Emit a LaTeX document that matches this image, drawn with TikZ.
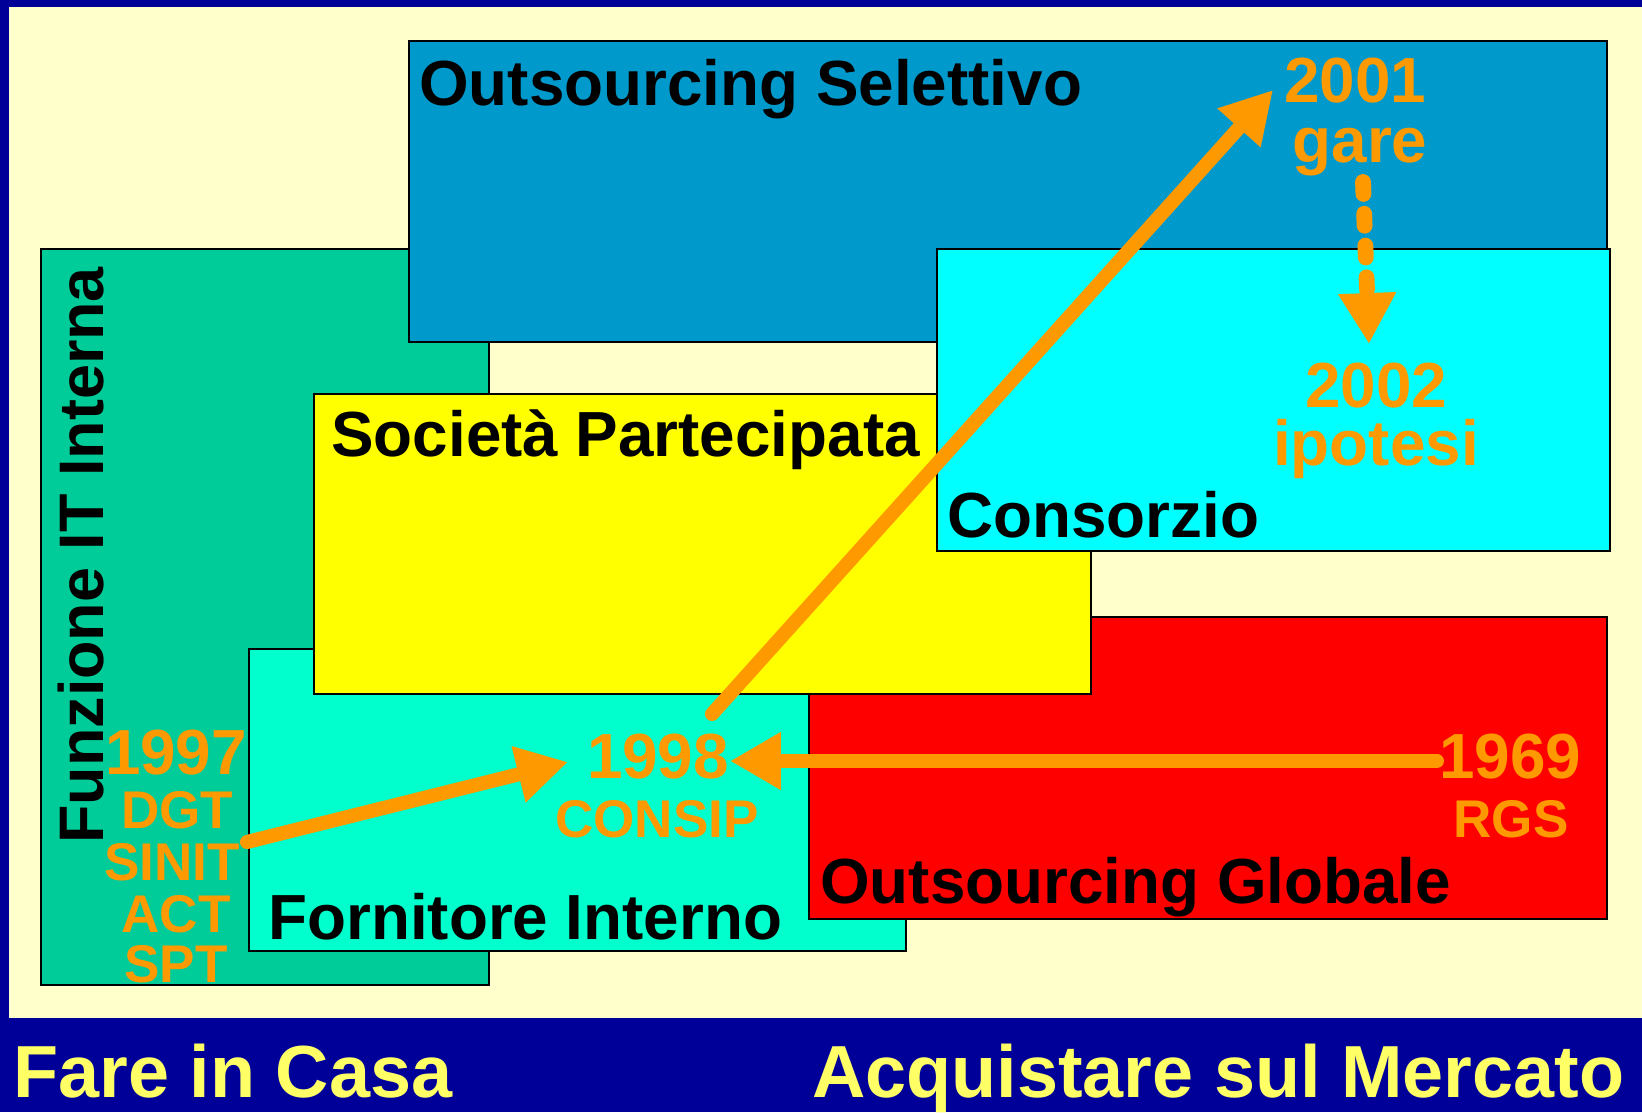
\documentclass[tikz,border=0pt]{standalone}
\usepackage{fontspec}
\setmainfont{Liberation Sans}
\usetikzlibrary{arrows.meta}

\definecolor{frameblue}{HTML}{000099}
\definecolor{cream}{HTML}{FFFFCC}
\definecolor{interna}{HTML}{00CC99}
\definecolor{selettivo}{HTML}{0099CC}
\definecolor{fornitore}{HTML}{00FFCC}
\definecolor{partecipata}{HTML}{FFFF00}
\definecolor{globale}{HTML}{FF0000}
\definecolor{consorzio}{HTML}{00FFFF}
\definecolor{yearorange}{HTML}{FF9900}
\definecolor{bandyellow}{HTML}{FFFF66}

\tikzset{
  box/.style={draw=black, line width=0.7pt},
  title/.style={anchor=base west, inner sep=0pt, font=\fontsize{36.3}{40}\selectfont\bfseries},
  year/.style={anchor=base, inner sep=0pt, text=yearorange, font=\fontsize{36.3}{40}\selectfont\bfseries},
  tag/.style={year, font=\fontsize{30.2}{34}\selectfont\bfseries},
  band/.style={anchor=base west, inner sep=0pt, text=bandyellow, font=\fontsize{42}{46}\selectfont\bfseries},
  trend/.style={draw=yearorange, line width=8pt, line cap=round, -{Triangle[length=29pt,width=31pt]}},
}

\begin{document}
\begin{tikzpicture}[x=0.02cm, y=-0.02cm]
    \useasboundingbox (0,0) rectangle (1642,1112);
    \fill[frameblue] (0,0) rectangle (1642,1112);
    \fill[cream] (9,7) rectangle (1642,1018);

    % the six ways of sourcing
    \draw[box, fill=interna] (41,249) rectangle (489,985);
    \draw[box, fill=selettivo] (409,41) rectangle (1607,342);
    \draw[box, fill=fornitore] (249,649) rectangle (906,951);
    \draw[box, fill=globale] (809,617) rectangle (1607,919);
    \draw[box, fill=partecipata] (314,394) rectangle (1091,694);
    \draw[box, fill=consorzio] (937,249) rectangle (1610,551);

    \node[title] (selettivo) at (419,105) {Outsourcing Selettivo};
    \node[title] (partecipata) at (331,456) {Società Partecipata};
    \node[title] (consorzio) at (947,537) {Consorzio};
    \node[title] (globale) at (820,903) {Outsourcing Globale};
    \node[title] (fornitore) at (268,939) {Fornitore Interno};
    \node[title, rotate=90, font=\fontsize{35.8}{40}\selectfont\bfseries] (interna) at (103,844) {Funzione IT Interna};

    % years
    \node[year] (y1997) at (176,774) {1997};
    \node[tag] (dgt) at (177,828) {DGT};
    \node[tag] (sinit) at (172,880) {SINIT};
    \node[tag] (act) at (176,932) {ACT};
    \node[tag] (spt) at (176,982) {SPT};
    \node[year] (y1998) at (658,778) {1998};
    \node[tag] (consip) at (657,837) {CONSIP};
    \node[year] (y1969) at (1510,778) {1969};
    \node[tag] (rgs) at (1511,837) {RGS};
    \node[year] (y2001) at (1355,102) {2001};
    \node[year] (gare) at (1360,162) {gare};
    \node[year] (y2002) at (1376,407) {2002};
    \node[year] (ipotesi) at (1376,465) {ipotesi};

    \coordinate (from1997) at (247,842);
    \coordinate (to1998a) at (568,762);
    \coordinate (from1969) at (1437,761);
    \coordinate (to1998b) at (730,761);
    \coordinate (from1998) at (712,714);
    \coordinate (to2001) at (1273,90);
    \coordinate (from2001) at (1363,182);
    \coordinate (to2002) at (1369,344);

    \draw[trend] (from1997) -- (to1998a);
    \draw[trend] (from1969) -- (to1998b);
    \draw[trend] (from1998) -- (to2001);
    \draw[trend, line width=9pt, dash pattern=on 6.8pt off 11.3pt] (from2001) -- (to2002);

    % bottom band
    \node[band] (casa) at (13,1097) {Fare in Casa};
    \node[band] (mercato) at (812,1097) {Acquistare sul Mercato};
\end{tikzpicture}
\end{document}
